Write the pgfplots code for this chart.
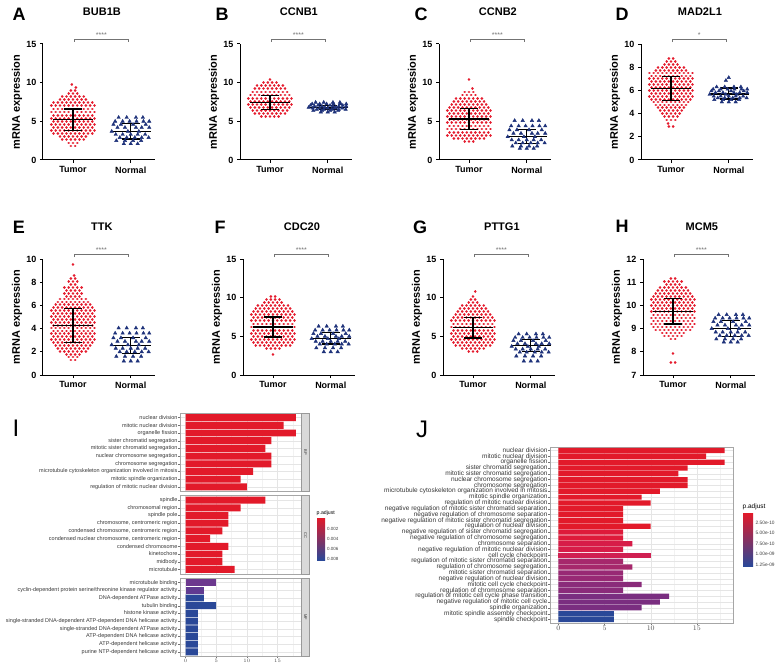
\documentclass[border=0pt]{standalone}
\usepackage{fontspec}
\setmainfont{Liberation Sans}
\usepackage{pgfplots}
\usepackage{pgfplotstable}
\pgfplotsset{compat=1.18}

\definecolor{tred}{RGB}{229,28,46}
\definecolor{tblue}{RGB}{30,50,122}
\definecolor{cR}{RGB}{226,26,42}
\definecolor{cJ1}{RGB}{222,26,58}
\definecolor{cJ2}{RGB}{215,28,72}
\definecolor{cJ3}{RGB}{208,32,82}
\definecolor{cJ4}{RGB}{166,40,108}
\definecolor{cJ5}{RGB}{152,41,116}
\definecolor{cJ6}{RGB}{138,43,122}
\definecolor{cJ7}{RGB}{122,46,128}
\definecolor{cB}{RGB}{42,72,152}
\definecolor{cP1}{RGB}{108,56,142}
\definecolor{cP2}{RGB}{96,58,145}
\definecolor{cMid}{RGB}{165,36,108}

\pgfplotstableread{
x A B C D E F G H
0.79 5.5 7.45 5.1 6.3 4.05 6.3 5.3 9.6
0.93 5.5 7.45 5.1 6.3 4.05 6.3 5.3 9.6
1.09 5.5 7.45 5.1 6.3 4.05 6.3 5.3 9.6
1.21 5.5 7.45 5.1 6.3 4.05 6.3 5.3 9.6
0.73 5.0 7.25 4.4 6.1 3.6 5.8 4.85 9.45
0.86 5.0 7.25 4.4 6.1 3.6 5.8 4.85 9.45
0.98 5.0 7.25 4.4 6.1 3.6 5.8 4.85 9.45
1.10 5.0 7.25 4.4 6.1 3.6 5.8 4.85 9.45
1.22 5.0 7.25 4.4 6.1 3.6 5.8 4.85 9.45
1.32 5.0 7.25 4.4 6.1 3.6 5.8 4.85 9.45
0.70 4.6 7.05 3.9 5.95 3.2 5.35 4.45 9.3
0.83 4.6 7.05 3.9 5.95 3.2 5.35 4.45 9.3
1.04 4.6 7.05 3.9 5.95 3.2 5.35 4.45 9.3
1.26 4.6 7.05 3.9 5.95 3.2 5.35 4.45 9.3
0.77 4.2 6.95 3.45 5.8 2.9 5.0 4.05 9.15
0.90 4.2 6.95 3.45 5.8 2.9 5.0 4.05 9.15
1.09 4.2 6.95 3.45 5.8 2.9 5.0 4.05 9.15
1.19 4.2 6.95 3.45 5.8 2.9 5.0 4.05 9.15
1.32 4.2 6.95 3.45 5.8 2.9 5.0 4.05 9.15
0.67 3.7 6.8 3.0 5.65 2.6 4.7 3.7 9.0
0.95 3.7 6.8 3.0 5.65 2.6 4.7 3.7 9.0
1.14 3.7 6.8 3.0 5.65 2.6 4.7 3.7 9.0
0.74 3.3 6.7 2.6 5.5 2.3 4.35 3.35 8.85
0.86 3.3 6.7 2.6 5.5 2.3 4.35 3.35 8.85
1.00 3.3 6.7 2.6 5.5 2.3 4.35 3.35 8.85
1.12 3.3 6.7 2.6 5.5 2.3 4.35 3.35 8.85
1.25 3.3 6.7 2.6 5.5 2.3 4.35 3.35 8.85
0.81 2.9 6.55 2.2 5.35 2.0 4.0 2.95 8.7
0.93 2.9 6.55 2.2 5.35 2.0 4.0 2.95 8.7
1.07 2.9 6.55 2.2 5.35 2.0 4.0 2.95 8.7
1.19 2.9 6.55 2.2 5.35 2.0 4.0 2.95 8.7
1.31 2.9 6.55 2.2 5.35 2.0 4.0 2.95 8.7
0.75 2.5 6.4 1.8 5.2 1.6 3.5 2.45 8.55
0.90 2.5 6.4 1.8 5.2 1.6 3.5 2.45 8.55
1.04 2.5 6.4 1.8 5.2 1.6 3.5 2.45 8.55
1.18 2.5 6.4 1.8 5.2 1.6 3.5 2.45 8.55
0.88 2.1 6.2 1.5 5.0 1.2 3.0 1.8 8.42
1.00 2.1 6.2 1.5 5.0 1.2 3.0 1.8 8.42
1.12 2.1 6.2 1.5 5.0 1.2 3.0 1.8 8.42
1.00 nan nan nan 7.1 nan nan nan nan
0.95 nan nan nan 6.85 nan nan nan nan
}\normtab

\pgfplotsset{
 dotplot/.style={
  scale only axis, width=112pt, height=116pt, anchor=south west,
  xmin=-0.52, xmax=1.42,
  axis x line*=bottom, axis y line*=left,
  axis line style={line width=1pt, black},
  xtick={0,1}, xticklabels={Tumor,Normal},
  tick align=outside, major tick length=3pt,
  tick style={line width=1pt, black},
  minor tick num=0,
  tick label style={font=\fontsize{9}{9}\selectfont\bfseries},
  /pgf/number format/assume math mode=true,
  ylabel={mRNA expression},
  ylabel style={font=\fontsize{11}{11}\selectfont\bfseries, at={(axis description cs:-0.232,0.5)}, anchor=center},
  title style={font=\fontsize{11}{11}\selectfont\bfseries, at={(axis description cs:0.526,1)}, anchor=center, yshift=26pt},
  clip=false, unbounded coords=jump,
 },
 tumor/.style={draw=tred, line width=2.8pt, line cap=round, dash pattern=on 0.01pt off 4.3pt, mark=none},
 normal/.style={only marks, mark=triangle*, mark size=2pt, color=tblue, mark options={fill=tblue, draw=tblue}},
 meansd/.style={black, line width=1.3pt, mark=none},
 gobar/.style={
  scale only axis, anchor=south west, width=121.5pt,
  xmin=-0.9, xmax=18.9, ymin=0.4, y dir=reverse,
  xbar, bar shift=0pt, bar width=0.9,
  xtick={0,5,10,15}, minor xtick={2.5,7.5,12.5,17.5},
  xtick pos=bottom, ytick pos=left,
  grid=both,
  major grid style={draw=black!10, line width=0.4pt},
  minor grid style={draw=black!5, line width=0.3pt},
  axis line style={draw=black!35, line width=0.5pt},
  tick align=outside, major tick length=1.6pt, minor tick length=0pt,
  tick style={draw=black!55, line width=0.35pt},
  yticklabel style={font=\fontsize{5.5}{5.5}\selectfont, text=black!78, inner sep=0.8pt},
  xticklabel style={font=\fontsize{5}{5}\selectfont, text=black!70, inner sep=1pt},
 },
}

\newcommand\sig[2]{%
 \draw[black!55, line width=0.6pt] ([yshift=2pt]axis cs:0.03,#1) -- ([yshift=4.5pt]axis cs:0.03,#1) -- ([yshift=4.5pt]axis cs:0.95,#1) -- ([yshift=2pt]axis cs:0.95,#1);
 \node[black!55, font=\fontsize{7}{7}\selectfont] at ([yshift=9pt]axis cs:0.49,#1) {#2};
}

\begin{document}
\begin{tikzpicture}
\fill[white] (0pt,0pt) rectangle (780pt,-666pt);
\path[use as bounding box] (0pt,0pt) rectangle (780pt,-666pt);

% panel letters
\begin{scope}[every node/.style={font=\fontsize{18}{18}\selectfont\bfseries}]
\node at (19pt,-14pt) {A};
\node at (222pt,-14pt) {B};
\node at (421pt,-14pt) {C};
\node at (622pt,-14pt) {D};
\node at (19pt,-227pt) {E};
\node at (220pt,-227pt) {F};
\node at (420pt,-227pt) {G};
\node at (622pt,-226pt) {H};
\end{scope}
\node[font=\fontsize{24}{24}\selectfont] at (16pt,-428pt) {I};
\node[font=\fontsize{24}{24}\selectfont] at (422pt,-429pt) {J};

% ---------------- A
\begin{axis}[dotplot, at={(43pt,-160pt)}, ymin=0, ymax=15, ytick={0,5,10,15}, title={BUB1B}]
\addplot[tumor] coordinates {
(-0.0375,1.8)(0.0375,1.8)(nan,nan)(-0.075,2.2)(0.075,2.2)(nan,nan)
(-0.1875,2.6)(0.1875,2.6)(nan,nan)(-0.225,3.0)(0.225,3.0)(nan,nan)
(-0.3375,3.4)(0.3375,3.4)(nan,nan)(-0.375,3.8)(0.375,3.8)(nan,nan)
(-0.3375,4.2)(0.3375,4.2)(nan,nan)(-0.375,4.6)(0.375,4.6)(nan,nan)
(-0.3375,5.0)(0.3375,5.0)(nan,nan)(-0.375,5.4)(0.375,5.4)(nan,nan)
(-0.3375,5.8)(0.3375,5.8)(nan,nan)(-0.375,6.2)(0.375,6.2)(nan,nan)
(-0.3375,6.6)(0.3375,6.6)(nan,nan)(-0.375,7.0)(0.375,7.0)(nan,nan)
(-0.3375,7.4)(0.3375,7.4)(nan,nan)(-0.225,7.8)(0.225,7.8)(nan,nan)
(-0.1875,8.2)(0.1875,8.2)(nan,nan)(-0.075,8.6)(0.075,8.6)(nan,nan)
(-0.0375,9.0)(0.0375,9.0)(nan,nan)(0.049,9.4)(0.051,9.4)(nan,nan)
(-0.021,9.8)(-0.019,9.8)};
\addplot[normal] table[x=x,y=A] {\normtab};
\addplot[meansd] coordinates {(-0.35,5.2)(0.35,5.2)(nan,nan)(-0.16,3.8)(0.16,3.8)(nan,nan)(-0.16,6.6)(0.16,6.6)(nan,nan)(0,3.8)(0,6.6)(nan,nan)
(0.65,3.7)(1.35,3.7)(nan,nan)(0.84,2.7)(1.16,2.7)(nan,nan)(0.84,4.7)(1.16,4.7)(nan,nan)(1,2.7)(1,4.7)};
\sig{15}{****}
\end{axis}

% ---------------- B
\begin{axis}[dotplot, at={(240pt,-160pt)}, ymin=0, ymax=15, ytick={0,5,10,15}, title={CCNB1}]
\addplot[tumor] coordinates {
(-0.15,5.6)(0.15,5.6)(nan,nan)(-0.2625,6.0)(0.2625,6.0)(nan,nan)
(-0.3,6.4)(0.3,6.4)(nan,nan)(-0.3375,6.8)(0.3375,6.8)(nan,nan)
(-0.375,7.2)(0.375,7.2)(nan,nan)(-0.3375,7.6)(0.3375,7.6)(nan,nan)
(-0.375,8.0)(0.375,8.0)(nan,nan)(-0.3375,8.4)(0.3375,8.4)(nan,nan)
(-0.3,8.8)(0.3,8.8)(nan,nan)(-0.2625,9.2)(0.2625,9.2)(nan,nan)
(-0.225,9.6)(0.225,9.6)(nan,nan)(-0.1125,10.0)(0.1125,10.0)(nan,nan)
(-0.001,10.4)(0.001,10.4)};
\addplot[normal] table[x=x,y=B] {\normtab};
\addplot[meansd] coordinates {(-0.35,7.4)(0.35,7.4)(nan,nan)(-0.16,6.55)(0.16,6.55)(nan,nan)(-0.16,8.3)(0.16,8.3)(nan,nan)(0,6.55)(0,8.3)(nan,nan)
(0.65,6.8)(1.35,6.8)(nan,nan)(0.84,6.6)(1.16,6.6)(nan,nan)(0.84,7.05)(1.16,7.05)(nan,nan)(1,6.6)(1,7.05)};
\sig{15}{****}
\end{axis}

% ---------------- C
\begin{axis}[dotplot, at={(439pt,-160pt)}, ymin=0, ymax=15, ytick={0,5,10,15}, title={CCNB2}]
\addplot[tumor] coordinates {
(-0.075,2.4)(0.075,2.4)(nan,nan)(-0.2625,2.8)(0.2625,2.8)(nan,nan)
(-0.375,3.2)(0.375,3.2)(nan,nan)(-0.3375,3.6)(0.3375,3.6)(nan,nan)
(-0.375,4.0)(0.375,4.0)(nan,nan)(-0.3375,4.4)(0.3375,4.4)(nan,nan)
(-0.375,4.8)(0.375,4.8)(nan,nan)(-0.3375,5.2)(0.3375,5.2)(nan,nan)
(-0.375,5.6)(0.375,5.6)(nan,nan)(-0.3375,6.0)(0.3375,6.0)(nan,nan)
(-0.375,6.4)(0.375,6.4)(nan,nan)(-0.3375,6.8)(0.3375,6.8)(nan,nan)
(-0.3,7.2)(0.3,7.2)(nan,nan)(-0.2625,7.6)(0.2625,7.6)(nan,nan)
(-0.225,8.0)(0.225,8.0)(nan,nan)(-0.1125,8.4)(0.1125,8.4)(nan,nan)
(-0.075,8.8)(0.075,8.8)(nan,nan)(0.059,9.2)(0.061,9.2)(nan,nan)
(-0.001,10.4)(0.001,10.4)};
\addplot[normal] table[x=x,y=C] {\normtab};
\addplot[meansd] coordinates {(-0.35,5.3)(0.35,5.3)(nan,nan)(-0.16,3.9)(0.16,3.9)(nan,nan)(-0.16,6.7)(0.16,6.7)(nan,nan)(0,3.9)(0,6.7)(nan,nan)
(0.65,3.0)(1.35,3.0)(nan,nan)(0.84,2.1)(1.16,2.1)(nan,nan)(0.84,3.9)(1.16,3.9)(nan,nan)(1,2.1)(1,3.9)};
\sig{15}{****}
\end{axis}

% ---------------- D
\begin{axis}[dotplot, at={(641pt,-160pt)}, ymin=0, ymax=10, ytick={0,2,4,6,8,10}, title={MAD2L1}]
\addplot[tumor] coordinates {
(-0.0375,2.9)(0.0375,2.9)(nan,nan)(-0.051,3.15)(-0.049,3.15)(nan,nan)
(-0.075,3.45)(0.075,3.45)(nan,nan)(-0.1125,3.75)(0.1125,3.75)(nan,nan)
(-0.15,4.0)(0.15,4.0)(nan,nan)(-0.1875,4.25)(0.1875,4.25)(nan,nan)
(-0.225,4.5)(0.225,4.5)(nan,nan)(-0.2625,4.75)(0.2625,4.75)(nan,nan)
(-0.3,5.0)(0.3,5.0)(nan,nan)(-0.3375,5.25)(0.3375,5.25)(nan,nan)
(-0.375,5.5)(0.375,5.5)(nan,nan)(-0.3375,5.75)(0.3375,5.75)(nan,nan)
(-0.375,6.0)(0.375,6.0)(nan,nan)(-0.3375,6.25)(0.3375,6.25)(nan,nan)
(-0.375,6.5)(0.375,6.5)(nan,nan)(-0.3375,6.75)(0.3375,6.75)(nan,nan)
(-0.375,7.0)(0.375,7.0)(nan,nan)(-0.3375,7.25)(0.3375,7.25)(nan,nan)
(-0.375,7.5)(0.375,7.5)(nan,nan)(-0.2625,7.75)(0.2625,7.75)(nan,nan)
(-0.225,8.0)(0.225,8.0)(nan,nan)(-0.1125,8.25)(0.1125,8.25)(nan,nan)
(-0.075,8.5)(0.075,8.5)(nan,nan)(-0.0375,8.75)(0.0375,8.75)};
\addplot[normal] table[x=x,y=D] {\normtab};
\addplot[meansd] coordinates {(-0.35,6.15)(0.35,6.15)(nan,nan)(-0.16,5.15)(0.16,5.15)(nan,nan)(-0.16,7.2)(0.16,7.2)(nan,nan)(0,5.15)(0,7.2)(nan,nan)
(0.65,5.7)(1.35,5.7)(nan,nan)(0.84,5.25)(1.16,5.25)(nan,nan)(0.84,6.2)(1.16,6.2)(nan,nan)(1,5.25)(1,6.2)};
\sig{10}{*}
\end{axis}

% ---------------- E
\begin{axis}[dotplot, at={(43pt,-375pt)}, ymin=0, ymax=10, ytick={0,2,4,6,8,10}, title={TTK}]
\addplot[tumor] coordinates {
(-0.0375,1.3)(0.0375,1.3)(nan,nan)(-0.075,1.55)(0.075,1.55)(nan,nan)
(-0.1125,1.8)(0.1125,1.8)(nan,nan)(-0.225,2.05)(0.225,2.05)(nan,nan)
(-0.2625,2.3)(0.2625,2.3)(nan,nan)(-0.3,2.55)(0.3,2.55)(nan,nan)
(-0.3375,2.8)(0.3375,2.8)(nan,nan)(-0.375,3.05)(0.375,3.05)(nan,nan)
(-0.3375,3.3)(0.3375,3.3)(nan,nan)(-0.375,3.55)(0.375,3.55)(nan,nan)
(-0.3375,3.8)(0.3375,3.8)(nan,nan)(-0.375,4.05)(0.375,4.05)(nan,nan)
(-0.3375,4.3)(0.3375,4.3)(nan,nan)(-0.375,4.55)(0.375,4.55)(nan,nan)
(-0.3375,4.8)(0.3375,4.8)(nan,nan)(-0.375,5.05)(0.375,5.05)(nan,nan)
(-0.3375,5.3)(0.3375,5.3)(nan,nan)(-0.375,5.55)(0.375,5.55)(nan,nan)
(-0.3375,5.8)(0.3375,5.8)(nan,nan)(-0.3,6.05)(0.3,6.05)(nan,nan)
(-0.2625,6.3)(0.2625,6.3)(nan,nan)(-0.225,6.55)(0.225,6.55)(nan,nan)
(-0.1125,6.8)(0.1125,6.8)(nan,nan)(-0.15,7.05)(0.15,7.05)(nan,nan)
(-0.1125,7.3)(0.1125,7.3)(nan,nan)(-0.15,7.55)(0.15,7.55)(nan,nan)
(-0.0375,7.8)(0.0375,7.8)(nan,nan)(-0.075,8.05)(0.075,8.05)(nan,nan)
(-0.0375,8.3)(0.0375,8.3)(nan,nan)(0.019,8.55)(0.021,8.55)(nan,nan)
(-0.001,9.5)(0.001,9.5)};
\addplot[normal] table[x=x,y=E] {\normtab};
\addplot[meansd] coordinates {(-0.35,4.25)(0.35,4.25)(nan,nan)(-0.16,2.8)(0.16,2.8)(nan,nan)(-0.16,5.75)(0.16,5.75)(nan,nan)(0,2.8)(0,5.75)(nan,nan)
(0.65,2.55)(1.35,2.55)(nan,nan)(0.84,1.85)(1.16,1.85)(nan,nan)(0.84,3.25)(1.16,3.25)(nan,nan)(1,1.85)(1,3.25)};
\sig{10}{****}
\end{axis}

% ---------------- F
\begin{axis}[dotplot, at={(243pt,-375pt)}, ymin=0, ymax=15, ytick={0,5,10,15}, title={CDC20}]
\addplot[tumor] coordinates {
(-0.001,2.7)(0.001,2.7)(nan,nan)(-0.1125,3.4)(0.1125,3.4)(nan,nan)
(-0.3,3.8)(0.3,3.8)(nan,nan)(-0.3375,4.2)(0.3375,4.2)(nan,nan)
(-0.375,4.6)(0.375,4.6)(nan,nan)(-0.3375,5.0)(0.3375,5.0)(nan,nan)
(-0.375,5.4)(0.375,5.4)(nan,nan)(-0.3375,5.8)(0.3375,5.8)(nan,nan)
(-0.375,6.2)(0.375,6.2)(nan,nan)(-0.3375,6.6)(0.3375,6.6)(nan,nan)
(-0.375,7.0)(0.375,7.0)(nan,nan)(-0.3375,7.4)(0.3375,7.4)(nan,nan)
(-0.375,7.8)(0.375,7.8)(nan,nan)(-0.3375,8.2)(0.3375,8.2)(nan,nan)
(-0.3,8.6)(0.3,8.6)(nan,nan)(-0.2625,9.0)(0.2625,9.0)(nan,nan)
(-0.15,9.4)(0.15,9.4)(nan,nan)(-0.1125,9.8)(0.1125,9.8)(nan,nan)
(-0.0375,10.2)(0.0375,10.2)};
\addplot[normal] table[x=x,y=F] {\normtab};
\addplot[meansd] coordinates {(-0.35,6.2)(0.35,6.2)(nan,nan)(-0.16,4.9)(0.16,4.9)(nan,nan)(-0.16,7.5)(0.16,7.5)(nan,nan)(0,4.9)(0,7.5)(nan,nan)
(0.65,4.75)(1.35,4.75)(nan,nan)(0.84,4.0)(1.16,4.0)(nan,nan)(0.84,5.5)(1.16,5.5)(nan,nan)(1,4.0)(1,5.5)};
\sig{15}{****}
\end{axis}

% ---------------- G
\begin{axis}[dotplot, at={(443pt,-375pt)}, ymin=0, ymax=15, ytick={0,5,10,15}, title={PTTG1}]
\addplot[tumor] coordinates {
(-0.075,3.0)(0.075,3.0)(nan,nan)(-0.1875,3.4)(0.1875,3.4)(nan,nan)
(-0.3,3.8)(0.3,3.8)(nan,nan)(-0.3375,4.2)(0.3375,4.2)(nan,nan)
(-0.375,4.6)(0.375,4.6)(nan,nan)(-0.3375,5.0)(0.3375,5.0)(nan,nan)
(-0.375,5.4)(0.375,5.4)(nan,nan)(-0.3375,5.8)(0.3375,5.8)(nan,nan)
(-0.375,6.2)(0.375,6.2)(nan,nan)(-0.3375,6.6)(0.3375,6.6)(nan,nan)
(-0.375,7.0)(0.375,7.0)(nan,nan)(-0.3375,7.4)(0.3375,7.4)(nan,nan)
(-0.3,7.8)(0.3,7.8)(nan,nan)(-0.2625,8.2)(0.2625,8.2)(nan,nan)
(-0.225,8.6)(0.225,8.6)(nan,nan)(-0.1875,9.0)(0.1875,9.0)(nan,nan)
(-0.075,9.4)(0.075,9.4)(nan,nan)(-0.0375,9.8)(0.0375,9.8)(nan,nan)
(-0.001,10.2)(0.001,10.2)(nan,nan)(0.039,10.8)(0.041,10.8)};
\addplot[normal] table[x=x,y=G] {\normtab};
\addplot[meansd] coordinates {(-0.35,6.1)(0.35,6.1)(nan,nan)(-0.16,4.8)(0.16,4.8)(nan,nan)(-0.16,7.4)(0.16,7.4)(nan,nan)(0,4.8)(0,7.4)(nan,nan)
(0.65,3.8)(1.35,3.8)(nan,nan)(0.84,3.0)(1.16,3.0)(nan,nan)(0.84,4.6)(1.16,4.6)(nan,nan)(1,3.0)(1,4.6)};
\sig{15}{****}
\end{axis}

% ---------------- H
\begin{axis}[dotplot, at={(643pt,-375pt)}, ymin=7, ymax=12, ytick={7,8,9,10,11,12}, title={MCM5}]
\addplot[tumor] coordinates {
(-0.0375,7.55)(0.0375,7.55)(nan,nan)(-0.001,7.93)(0.001,7.93)(nan,nan)
(-0.0375,8.55)(0.0375,8.55)(nan,nan)(-0.15,8.68)(0.15,8.68)(nan,nan)
(-0.1875,8.81)(0.1875,8.81)(nan,nan)(-0.3,8.94)(0.3,8.94)(nan,nan)
(-0.3375,9.07)(0.3375,9.07)(nan,nan)(-0.375,9.2)(0.375,9.2)(nan,nan)
(-0.3375,9.33)(0.3375,9.33)(nan,nan)(-0.375,9.46)(0.375,9.46)(nan,nan)
(-0.3375,9.59)(0.3375,9.59)(nan,nan)(-0.375,9.72)(0.375,9.72)(nan,nan)
(-0.3375,9.85)(0.3375,9.85)(nan,nan)(-0.375,9.98)(0.375,9.98)(nan,nan)
(-0.3375,10.11)(0.3375,10.11)(nan,nan)(-0.375,10.24)(0.375,10.24)(nan,nan)
(-0.3375,10.37)(0.3375,10.37)(nan,nan)(-0.3,10.5)(0.3,10.5)(nan,nan)
(-0.2625,10.63)(0.2625,10.63)(nan,nan)(-0.225,10.76)(0.225,10.76)(nan,nan)
(-0.1125,10.89)(0.1125,10.89)(nan,nan)(-0.15,11.02)(0.15,11.02)(nan,nan)
(-0.0375,11.15)(0.0375,11.15)};
\addplot[normal] table[x=x,y=H] {\normtab};
\addplot[meansd] coordinates {(-0.35,9.75)(0.35,9.75)(nan,nan)(-0.16,9.2)(0.16,9.2)(nan,nan)(-0.16,10.3)(0.16,10.3)(nan,nan)(0,9.2)(0,10.3)(nan,nan)
(0.65,9.0)(1.35,9.0)(nan,nan)(0.84,8.65)(1.16,8.65)(nan,nan)(0.84,9.35)(1.16,9.35)(nan,nan)(1,8.65)(1,9.35)};
\sig{12}{****}
\end{axis}

% ================= I : GO enrichment facets
\begin{axis}[gobar, at={(180pt,-491.5pt)}, height=78.5pt, ymax=10.6, ytick={1,...,10},
 yticklabels={nuclear division, mitotic nuclear division, organelle fission, sister chromatid segregation, mitotic sister chromatid segregation, nuclear chromosome segregation, chromosome segregation, microtubule cytoskeleton organization involved in mitosis, mitotic spindle organization, regulation of mitotic nuclear division},
 xticklabels={}, every major x tick/.append style={draw=none}]
\addplot[fill=cR, draw=none] coordinates {(18,1)(16,2)(18,3)(14,4)(13,5)(14,6)(14,7)(11,8)(9,9)(10,10)};
\end{axis}
\begin{axis}[gobar, at={(180pt,-574pt)}, height=78.5pt, ymax=10.6, ytick={1,...,10},
 yticklabels={spindle, chromosomal region, spindle pole, {chromosome, centromeric region}, {condensed chromosome, centromeric region}, {condensed nuclear chromosome, centromeric region}, condensed chromosome, kinetochore, midbody, microtubule},
 xticklabels={}, every major x tick/.append style={draw=none}]
\addplot[fill=cR, draw=none] coordinates {(13,1)(9,2)(7,3)(7,4)(6,5)(4,6)(7,7)(6,8)(6,9)(8,10)};
\end{axis}
\begin{axis}[gobar, at={(180pt,-656.5pt)}, height=78.5pt, ymax=10.6, ytick={1,...,10},
 yticklabels={microtubule binding, cyclin-dependent protein serine/threonine kinase regulator activity, DNA-dependent ATPase activity, tubulin binding, histone kinase activity, single-stranded DNA-dependent ATP-dependent DNA helicase activity, single-stranded DNA-dependent ATPase activity, ATP-dependent DNA helicase activity, ATP-dependent helicase activity, purine NTP-dependent helicase activity}]
\addplot[fill=cP1, draw=none] coordinates {(5,1)};
\addplot[fill=cP2, draw=none] coordinates {(3,2)};
\addplot[fill=cB, draw=none] coordinates {(3,3)(5,4)(2,5)(2,6)(2,7)(2,8)(2,9)(2,10)};
\end{axis}
% facet strips
\draw[fill=black!15, draw=black!40, line width=0.4pt] (301.5pt,-413pt) rectangle (309.5pt,-491.5pt);
\draw[fill=black!15, draw=black!40, line width=0.4pt] (301.5pt,-495.5pt) rectangle (309.5pt,-574pt);
\draw[fill=black!15, draw=black!40, line width=0.4pt] (301.5pt,-578pt) rectangle (309.5pt,-656.5pt);
\begin{scope}[every node/.style={rotate=-90, font=\fontsize{4}{4}\selectfont, text=black!80, inner sep=0pt}]
\node at (305.5pt,-452pt) {BP};
\node at (305.5pt,-535pt) {CC};
\node at (305.5pt,-617pt) {MF};
\end{scope}
% legend I
\node[anchor=west, font=\fontsize{5.2}{5.2}\selectfont, inner sep=0pt] at (316.5pt,-513.5pt) {p.adjust};
\shade[top color=cR, middle color=cMid, bottom color=cB] (317pt,-518pt) rectangle (325pt,-560pt);
\begin{scope}[every node/.style={anchor=west, font=\fontsize{4.5}{4.5}\selectfont, text=black!75, inner sep=0pt}]
\node at (327pt,-528.5pt) {0.002};
\node at (327pt,-538.5pt) {0.004};
\node at (327pt,-548.5pt) {0.006};
\node at (327pt,-558.5pt) {0.008};
\end{scope}

% ================= J
\begin{axis}[gobar, at={(550pt,-623pt)}, width=183pt, height=176pt, ymax=30.6, ytick={1,...,30},
 major tick length=2pt,
 yticklabel style={font=\fontsize{6.5}{6.5}\selectfont, inner sep=0.3pt},
 xticklabel style={font=\fontsize{7.2}{7.2}\selectfont},
 yticklabels={nuclear division, mitotic nuclear division, organelle fission, sister chromatid segregation, mitotic sister chromatid segregation, nuclear chromosome segregation, chromosome segregation, microtubule cytoskeleton organization involved in mitosis, mitotic spindle organization, regulation of mitotic nuclear division, negative regulation of mitotic sister chromatid separation, negative regulation of chromosome separation, negative regulation of mitotic sister chromatid segregation, regulation of nuclear division, negative regulation of sister chromatid segregation, negative regulation of chromosome segregation, chromosome separation, negative regulation of mitotic nuclear division, cell cycle checkpoint, regulation of mitotic sister chromatid separation, regulation of chromosome segregation, mitotic sister chromatid separation, negative regulation of nuclear division, mitotic cell cycle checkpoint, regulation of chromosome separation, regulation of mitotic cell cycle phase transition, negative regulation of mitotic cell cycle, spindle organization, mitotic spindle assembly checkpoint, spindle checkpoint}]
\addplot[fill=cR, draw=none] coordinates {(18,1)(16,2)(18,3)(14,4)(13,5)(14,6)(14,7)(11,8)(9,9)(10,10)(7,11)(7,12)(7,13)(10,14)};
\addplot[fill=cJ1, draw=none] coordinates {(7,15)(7,16)};
\addplot[fill=cJ2, draw=none] coordinates {(8,17)(7,18)};
\addplot[fill=cJ3, draw=none] coordinates {(10,19)};
\addplot[fill=cJ4, draw=none] coordinates {(7,20)(8,21)};
\addplot[fill=cJ5, draw=none] coordinates {(7,22)(7,23)};
\addplot[fill=cJ6, draw=none] coordinates {(9,24)(7,25)};
\addplot[fill=cJ7, draw=none] coordinates {(12,26)(11,27)(9,28)};
\addplot[fill=cB, draw=none] coordinates {(6,29)(6,30)};
\end{axis}
% legend J
\node[anchor=west, font=\fontsize{6.5}{6.5}\selectfont, inner sep=0pt] at (742.5pt,-507pt) {p.adjust};
\shade[top color=cR, middle color=cMid, bottom color=cB] (743pt,-513pt) rectangle (753pt,-566pt);
\begin{scope}[every node/.style={anchor=west, font=\fontsize{4.8}{4.8}\selectfont, text=black!75, inner sep=0pt}]
\node at (755.5pt,-522.5pt) {2.50e-10};
\node at (755.5pt,-533pt) {5.00e-10};
\node at (755.5pt,-543.5pt) {7.50e-10};
\node at (755.5pt,-554pt) {1.00e-09};
\node at (755.5pt,-564.5pt) {1.25e-09};
\end{scope}
\end{tikzpicture}
\end{document}
